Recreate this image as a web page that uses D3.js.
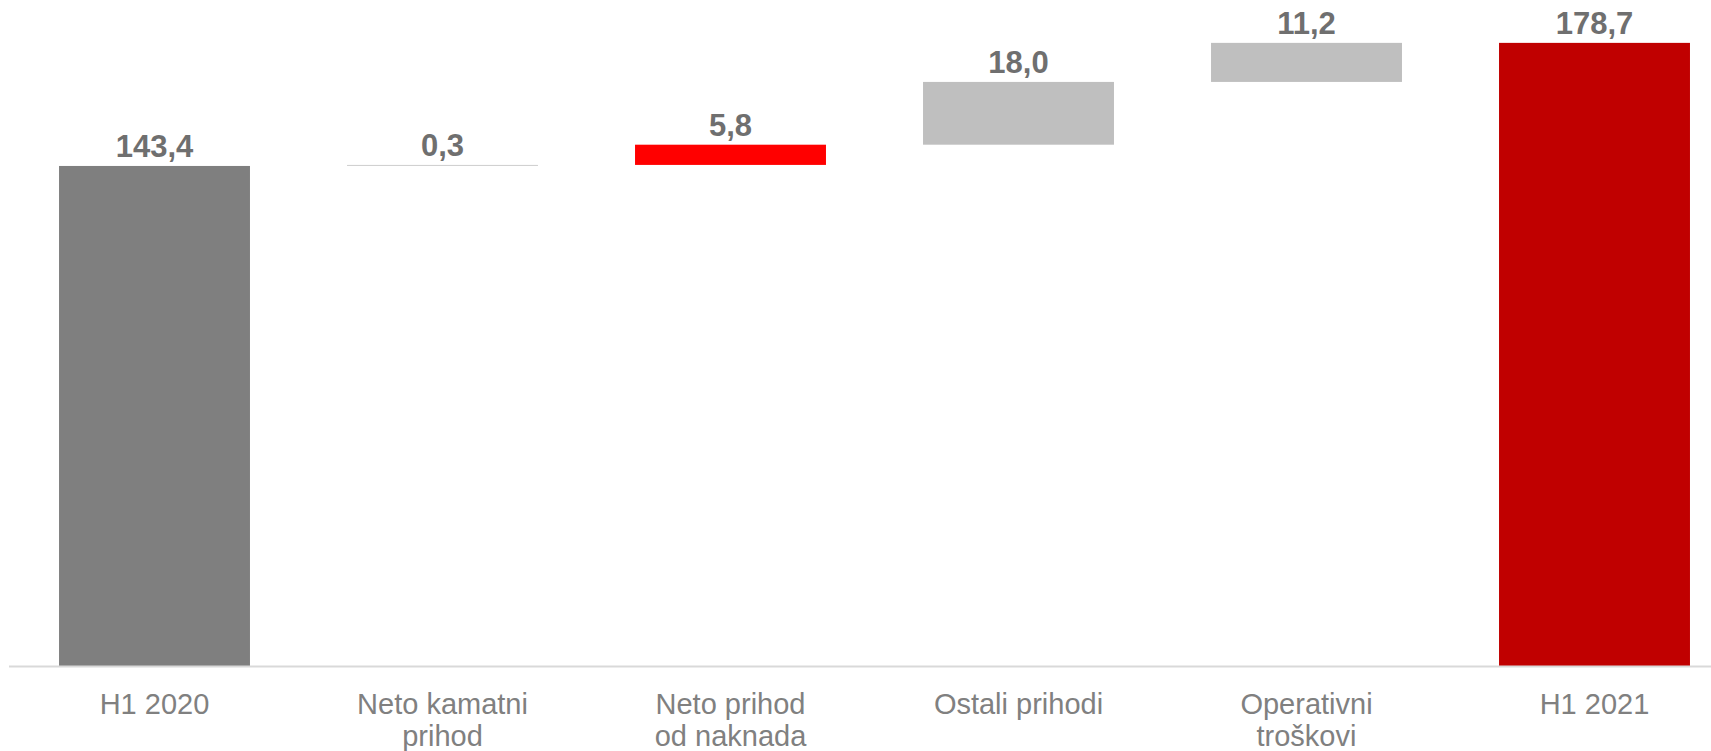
<!DOCTYPE html>
<html>
<head>
<meta charset="utf-8">
<script src="https://cdn.jsdelivr.net/npm/d3@7"></script>
<style>
  html, body { margin: 0; padding: 0; background: #fff; }
  svg { display: block; }
</style>
</head>
<body>
<svg id="chart"></svg>
<script>
// waterfall data
const categories = ["H1 2020", "Neto kamatni prihod", "Neto prihod od naknada", "Ostali prihodi", "Operativni troškovi", "H1 2021"];
const categoryLines = [["H1 2020"], ["Neto kamatni", "prihod"], ["Neto prihod", "od naknada"], ["Ostali prihodi"], ["Operativni", "troškovi"], ["H1 2021"]];
const values = [143.4, 0.3, 5.8, 18.0, 11.2, 178.7];
const isTotal = [true, false, false, false, false, true];
const valueLabels = ["143,4", "0,3", "5,8", "18,0", "11,2", "178,7"];

const barColors = ["#7f7f7f", "#d0d0d0", "#ff0000", "#bfbfbf", "#bfbfbf", "#c00000"];

document.addEventListener("DOMContentLoaded", function() {
  const width = 1711;
  const height = 751;
  const baseY = 666;

  const svg = d3.select("#chart")
    .attr("width", width)
    .attr("height", height);

  // running totals for floating bars
  let running = 0;
  const bars = categories.map((c, i) => {
    let lo, hi;
    if (isTotal[i]) {
      lo = 0; hi = values[i]; running = values[i];
    } else {
      lo = running; hi = running + values[i]; running = hi;
    }
    return { name: c, lines: categoryLines[i], lo, hi, label: valueLabels[i], color: barColors[i] };
  });

  const x = d3.scaleBand()
    .domain(categories)
    .range([10.5, 1738.5])
    .paddingInner(0.337)
    .paddingOuter(0.337 / 2);

  const y = d3.scaleLinear()
    .domain([0, 190])
    .range([baseY, baseY - 190 * 3.487]);

  svg.append("g")
    .selectAll("rect")
    .data(bars)
    .join("rect")
    .attr("x", d => x(d.name))
    .attr("width", x.bandwidth())
    .attr("y", d => y(d.hi))
    .attr("height", d => Math.max(1, y(d.lo) - y(d.hi)))
    .attr("fill", d => d.color);

  // baseline
  svg.append("line")
    .attr("x1", 9)
    .attr("x2", width)
    .attr("y1", baseY + 0.5)
    .attr("y2", baseY + 0.5)
    .attr("stroke", "#d9d9d9")
    .attr("stroke-width", 2);

  // value labels
  svg.append("g")
    .selectAll("text")
    .data(bars)
    .join("text")
    .attr("x", d => x(d.name) + x.bandwidth() / 2)
    .attr("y", d => y(d.hi) - 9)
    .attr("text-anchor", "middle")
    .style("font-family", "'Liberation Sans', Arial, sans-serif")
    .style("font-weight", "bold")
    .style("font-size", "31px")
    .style("fill", "#6f6f6f")
    .text(d => d.label);

  // category labels
  const cat = svg.append("g")
    .selectAll("text")
    .data(bars)
    .join("text")
    .attr("x", d => x(d.name) + x.bandwidth() / 2)
    .attr("y", 714)
    .attr("text-anchor", "middle")
    .style("font-family", "'Liberation Sans', Arial, sans-serif")
    .style("font-size", "29px")
    .style("fill", "#808080");

  cat.selectAll("tspan")
    .data(d => d.lines.map(l => ({ l, cx: x(d.name) + x.bandwidth() / 2 })))
    .join("tspan")
    .attr("x", t => t.cx)
    .attr("dy", (t, i) => i === 0 ? 0 : 32)
    .text(t => t.l);
});
</script>
</body>
</html>
